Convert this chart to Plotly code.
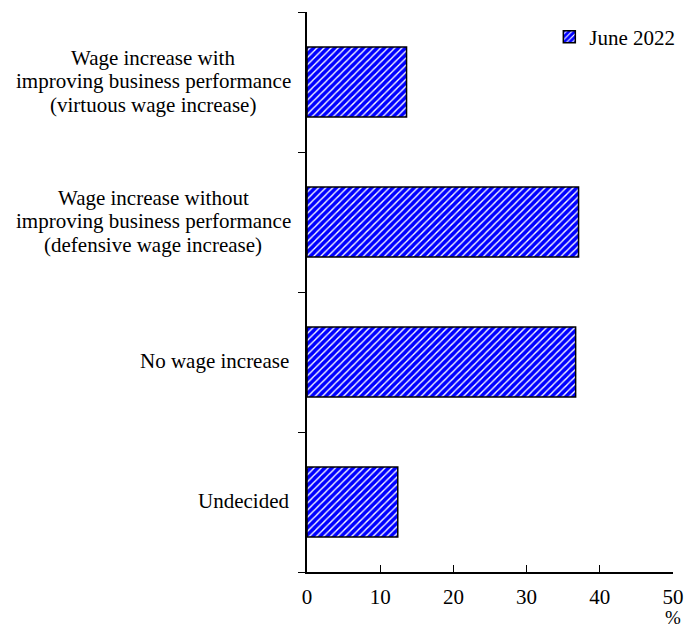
import plotly.graph_objects as go

categories = [
    "Undecided",
    "No wage increase",
    "Wage increase without<br>improving business performance<br>(defensive wage increase)",
    "Wage increase with<br>improving business performance<br>(virtuous wage increase)",
]
values = [12.4, 36.7, 37.1, 13.6]
series_name = "June 2022"
x_ticks = [0, 10, 20, 30, 40, 50]
unit_label = "%"

FONT = "Liberation Serif, Times New Roman, serif"
FS = 21
LINE_H = 23.5

fig = go.Figure()
fig.add_trace(go.Bar(
    y=categories, x=values, orientation="h", name=series_name,
    marker=dict(
        color="white",
        line=dict(color="black", width=1.5),
        pattern=dict(shape="/", fgcolor="#0000ff", bgcolor="white", size=5,
                     solidity=0.72, fgopacity=1, fillmode="replace"),
    ),
    width=0.5,
))

# category labels: one annotation per line, lines centred on each other
for c in categories:
    lines = c.split("<br>")
    n = len(lines)
    for i, ln in enumerate(lines):
        if n == 1:
            kw = dict(xanchor="right", xshift=-16)
        else:
            kw = dict(xanchor="center", xshift=-154)
        fig.add_annotation(
            x=0, xref="paper", y=c, yref="y", text=ln, showarrow=False,
            yanchor="middle", yshift=((n - 1) / 2 - i) * LINE_H + 1,
            font=dict(family=FONT, size=FS, color="black"), **kw,
        )

fig.add_annotation(
    x=x_ticks[-1], xref="x", y=0, yref="paper", text=unit_label, showarrow=False,
    xanchor="center", yanchor="bottom", yshift=-57, borderpad=0,
    font=dict(family=FONT, size=19, color="black"),
)

fig.update_layout(
    width=696, height=630,
    margin=dict(l=307, r=20, t=12, b=58),
    plot_bgcolor="white", paper_bgcolor="white",
    font=dict(family=FONT, size=FS, color="black"),
    showlegend=True,
    legend=dict(x=1.02, xanchor="right", y=0.955, yanchor="middle", bgcolor="rgba(0,0,0,0)",
                font=dict(family=FONT, size=FS), itemwidth=30),
    xaxis=dict(
        range=[0, 50], tickvals=x_ticks, ticks="inside", ticklen=7, tickcolor="black",
        showline=True, linecolor="black", linewidth=1.5, showgrid=False, zeroline=False,
        tickfont=dict(family=FONT, size=FS), fixedrange=True, ticklabelstandoff=5,
    ),
    yaxis=dict(
        categoryorder="array", categoryarray=categories, range=[-0.5, 3.5],
        showticklabels=False, ticks="outside", tickson="boundaries", ticklen=7,
        tickcolor="black", showline=True, linecolor="black", linewidth=1.5,
        showgrid=False, zeroline=False, fixedrange=True,
    ),
)

fig.write_html("out.html", config={"displayModeBar": False},
               post_script="document.body.style.margin='0px';")
